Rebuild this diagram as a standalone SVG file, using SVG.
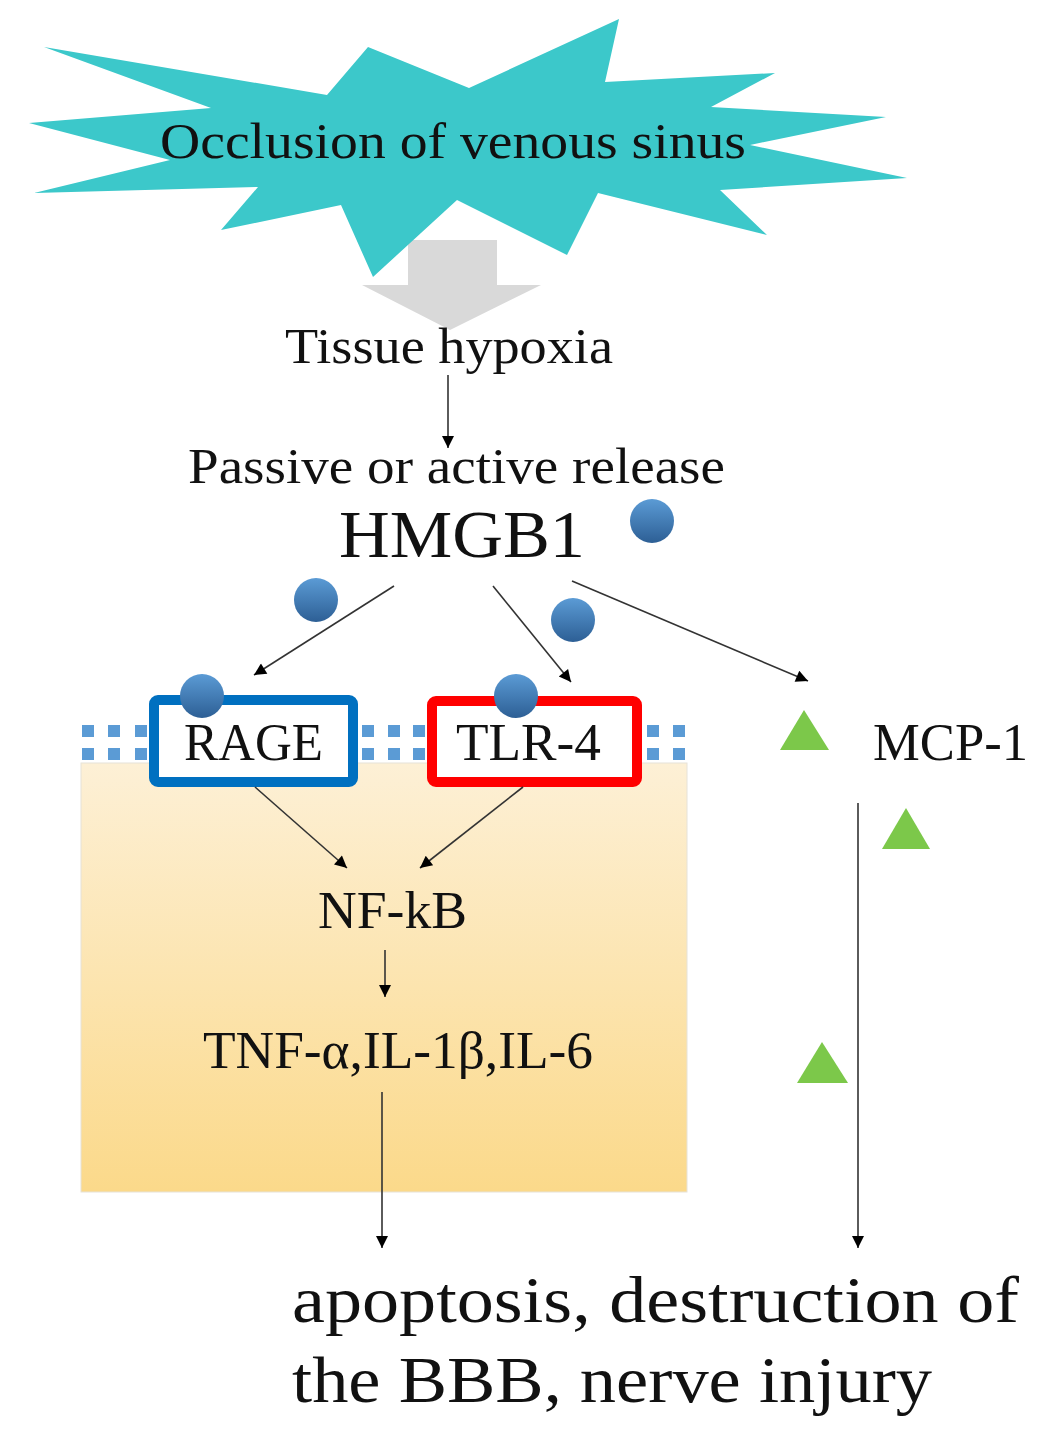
<svg xmlns="http://www.w3.org/2000/svg" width="1063" height="1440" viewBox="0 0 1063 1440">
<style>
.t{font-family:"Liberation Serif","Times New Roman",serif;fill:#111;}
.ln{stroke:#333;stroke-width:1.6;fill:none;marker-end:url(#ah);}
.sq{fill:#5b9bd5;}
.tri{fill:#7cc84a;}
.ball{fill:url(#gball);}
</style>
<defs>
<marker id="ah" viewBox="0 0 10 10" refX="10" refY="5" markerWidth="14" markerHeight="12" markerUnits="userSpaceOnUse" orient="auto">
<path d="M0,0 L10,5 L0,10 z" fill="#000"/>
</marker>
<linearGradient id="gball" x1="0" y1="0" x2="0" y2="1">
<stop offset="0" stop-color="#5b9bd5"/>
<stop offset="1" stop-color="#2d5f95"/>
</linearGradient>
<linearGradient id="gcell" x1="0" y1="0" x2="0" y2="1">
<stop offset="0" stop-color="#fdf0d6"/>
<stop offset="1" stop-color="#fbd98a"/>
</linearGradient>
</defs>

<g id="gray-arrow">
<polygon points="408,240 497,240 497,285 541,285 450,330 362,285 408,285" fill="#d9d9d9"/>
</g>

<g id="occlusion">
<polygon points="44,47 327,95 368,47 469,88 619,19 605,82 775,73 711,107 886,117 750,145 907,178 720,190 767,235 598,193 567,255 457,200 373,277 341,205 221,230 258,187 34,193 170,160 29,123 211,108" fill="#3cc8ca"/>
<text class="t" x="160" y="158" font-size="50" textLength="586" lengthAdjust="spacingAndGlyphs">Occlusion of venous sinus</text>
</g>

<g id="cell">
<rect x="81" y="763" width="606" height="429" fill="url(#gcell)" stroke="#e6e2d8" stroke-width="1"/>
</g>

<g id="membrane">
<rect class="sq" x="82" y="725" width="12" height="12"/><rect class="sq" x="108" y="725" width="12" height="12"/><rect class="sq" x="135" y="725" width="12" height="12"/>
<rect class="sq" x="82" y="748" width="12" height="12"/><rect class="sq" x="108" y="748" width="12" height="12"/><rect class="sq" x="135" y="748" width="12" height="12"/>
<rect class="sq" x="362" y="725" width="12" height="12"/><rect class="sq" x="388" y="725" width="12" height="12"/><rect class="sq" x="413" y="725" width="12" height="12"/>
<rect class="sq" x="362" y="748" width="12" height="12"/><rect class="sq" x="388" y="748" width="12" height="12"/><rect class="sq" x="413" y="748" width="12" height="12"/>
<rect class="sq" x="647" y="725" width="12" height="12"/><rect class="sq" x="673" y="725" width="12" height="12"/>
<rect class="sq" x="647" y="748" width="12" height="12"/><rect class="sq" x="673" y="748" width="12" height="12"/>
</g>

<g id="tissue-hypoxia">
<text class="t" x="285" y="363" font-size="50" textLength="328" lengthAdjust="spacingAndGlyphs">Tissue hypoxia</text>
</g>

<g id="release">
<text class="t" x="188" y="483" font-size="50" textLength="537" lengthAdjust="spacingAndGlyphs">Passive or active release</text>
</g>

<g id="hmgb1">
<text class="t" x="339" y="557" font-size="68" textLength="246" lengthAdjust="spacingAndGlyphs">HMGB1</text>
</g>

<g id="balls">
<circle class="ball" cx="652" cy="521" r="22"/>
<circle class="ball" cx="316" cy="600" r="22"/>
<circle class="ball" cx="573" cy="620" r="22"/>
</g>

<g id="rage">
<rect x="154" y="700" width="199" height="82" rx="4" fill="#fff" stroke="#0070c0" stroke-width="10"/>
<circle class="ball" cx="202" cy="696" r="22"/>
<text class="t" x="184" y="760" font-size="52" textLength="139" lengthAdjust="spacingAndGlyphs">RAGE</text>
</g>

<g id="tlr4">
<rect x="432" y="701" width="205" height="81" rx="4" fill="#fff" stroke="#ff0000" stroke-width="10"/>
<circle class="ball" cx="516" cy="696" r="22"/>
<text class="t" x="456" y="760" font-size="52" textLength="145" lengthAdjust="spacingAndGlyphs">TLR-4</text>
</g>

<g id="mcp1">
<polygon class="tri" points="804,710 829,750 780,750"/>
<text class="t" x="873" y="760" font-size="52" textLength="155" lengthAdjust="spacingAndGlyphs">MCP-1</text>
</g>

<g id="mcp-triangles">
<polygon class="tri" points="906,808 930,849 882,849"/>
<polygon class="tri" points="822,1042 848,1083 797,1083"/>
</g>

<g id="nfkb">
<text class="t" x="318" y="928" font-size="52" textLength="149" lengthAdjust="spacingAndGlyphs">NF-kB</text>
</g>

<g id="cytokines">
<text class="t" x="203" y="1068" font-size="52" textLength="390" lengthAdjust="spacingAndGlyphs">TNF-α,IL-1β,IL-6</text>
</g>

<g id="outcome">
<text class="t" x="292" y="1322" font-size="66" textLength="727" lengthAdjust="spacingAndGlyphs">apoptosis, destruction of</text>
<text class="t" x="292" y="1402" font-size="66" textLength="640" lengthAdjust="spacingAndGlyphs">the BBB, nerve injury</text>
</g>

<g id="connectors">
<line class="ln" x1="448" y1="375" x2="448" y2="448"/>
<line class="ln" x1="394" y1="586" x2="254" y2="675"/>
<line class="ln" x1="493" y1="586" x2="571" y2="682"/>
<line class="ln" x1="572" y1="581" x2="808" y2="681"/>
<line class="ln" x1="255" y1="787" x2="347" y2="868"/>
<line class="ln" x1="523" y1="787" x2="420" y2="868"/>
<line class="ln" x1="385" y1="950" x2="385" y2="997"/>
<line class="ln" x1="382" y1="1092" x2="382" y2="1248"/>
<line class="ln" x1="858" y1="803" x2="858" y2="1248" stroke="#666" stroke-width="2"/>
</g>
</svg>
